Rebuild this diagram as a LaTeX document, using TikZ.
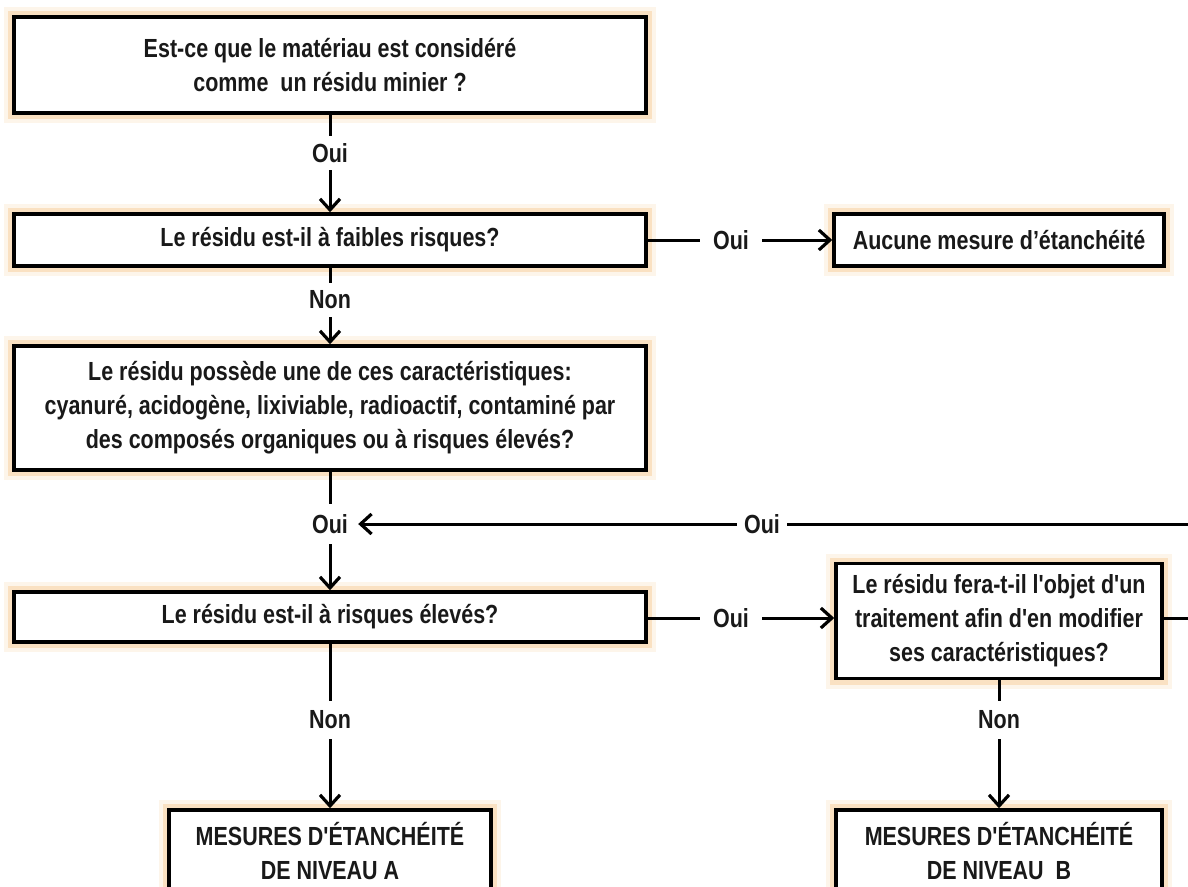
\documentclass[tikz,border=0pt]{standalone}
\usepackage{fontspec}
\setmainfont{Liberation Sans}[FakeStretch=0.82, Ligatures=TeXOff]
\usetikzlibrary{arrows.meta}
\definecolor{glowc}{RGB}{246,190,120}
\definecolor{txt}{RGB}{25,25,25}
\begin{document}
\begin{tikzpicture}[x=1pt,y=-1pt,
  every node/.style={font=\fontsize{26.2}{34}\selectfont\bfseries, text=txt},
  box/.style={draw=black, line width=3.5pt, fill=white, align=center, inner sep=0pt,
    preaction={draw=glowc, line width=20pt, opacity=0.15},
    preaction={draw=glowc, line width=12pt, opacity=0.35}},
  lbl/.style={inner sep=0pt, minimum height=34pt},
  hlbl/.style={inner sep=0pt, minimum width=62pt},
  conn/.style={line width=3pt},
  arr/.style={conn, -{Straight Barb[length=11pt,width=20pt,line width=3.2pt]}}]
\useasboundingbox (0,0) rectangle (1188,886);
\fill[white] (0,0) rectangle (1188,886);

% boxes
\node[box, minimum width=632pt, minimum height=96pt] (b1) at (330,65)
  {Est-ce que le matériau est considéré\\comme\ \ un résidu minier ?};
\node[box, minimum width=632pt, minimum height=52pt] (b2) at (330,240)
  {Le résidu est-il à faibles risques?};
\node[box, minimum width=330pt, minimum height=52pt] (aucune) at (999,240)
  {Aucune mesure d’étanchéité};
\node[box, minimum width=632pt, minimum height=124pt] (b3) at (330,408)
  {Le résidu possède une de ces caractéristiques:\\cyanuré, acidogène, lixiviable, radioactif, contaminé par\\des composés organiques ou à risques élevés?};
\node[box, minimum width=632pt, minimum height=50pt] (b4) at (330,617)
  {Le résidu est-il à risques élevés?};
\node[box, minimum width=326pt, minimum height=115pt] (b5) at (999,621)
  {Le résidu fera-t-il l'objet d'un\\traitement afin d'en modifier\\ses caractéristiques?};
\node[box, minimum width=322pt, minimum height=82pt] (bA) at (330,851)
  {MESURES D'ÉTANCHÉITÉ\\DE NIVEAU A};
\node[box, minimum width=326pt, minimum height=82pt] (bB) at (999,851)
  {MESURES D'ÉTANCHÉITÉ\\DE NIVEAU\ \ B};

% labels
\node[lbl] (oui1) at (330,153) {Oui};
\node[hlbl] (ouiR1) at (731,240) {Oui};
\node[lbl] (non1) at (330,300) {Non};
\node[inner sep=0pt, minimum width=56pt, minimum height=40pt] (oui2) at (330,524) {Oui};
\node[inner sep=0pt, minimum width=50pt] (ouiR3) at (762,524) {Oui};
\node[hlbl] (ouiR2) at (731,618) {Oui};
\node[inner sep=0pt, minimum height=38pt] (non2) at (330,720) {Non};
\node[inner sep=0pt, minimum height=38pt] (non3) at (999,720) {Non};

\coordinate (loopA) at (1210,618);
\coordinate (loopB) at (1210,524);

% connectors
\draw[conn] (b1) -- (oui1);
\draw[arr] (oui1) -- (b2);
\draw[conn] (b2) -- (ouiR1);
\draw[arr] (ouiR1) -- (aucune);
\draw[conn] (b2) -- (non1);
\draw[arr] (non1) -- (b3);
\draw[conn] (b3) -- (oui2);
\draw[arr] (oui2) -- (b4);
\draw[conn] (b4.east |- ouiR2) -- (ouiR2);
\draw[arr] (ouiR2) -- (ouiR2 -| b5.west);
\draw[conn] (b4) -- (non2);
\draw[arr] (non2) -- (bA);
\draw[conn] (b5) -- (non3);
\draw[arr] (non3) -- (bB);
\draw[conn] (b5.east |- ouiR2) -- (loopA) -- (loopB) -- (ouiR3);
\draw[arr] (ouiR3) -- (oui2);
\end{tikzpicture}
\end{document}
